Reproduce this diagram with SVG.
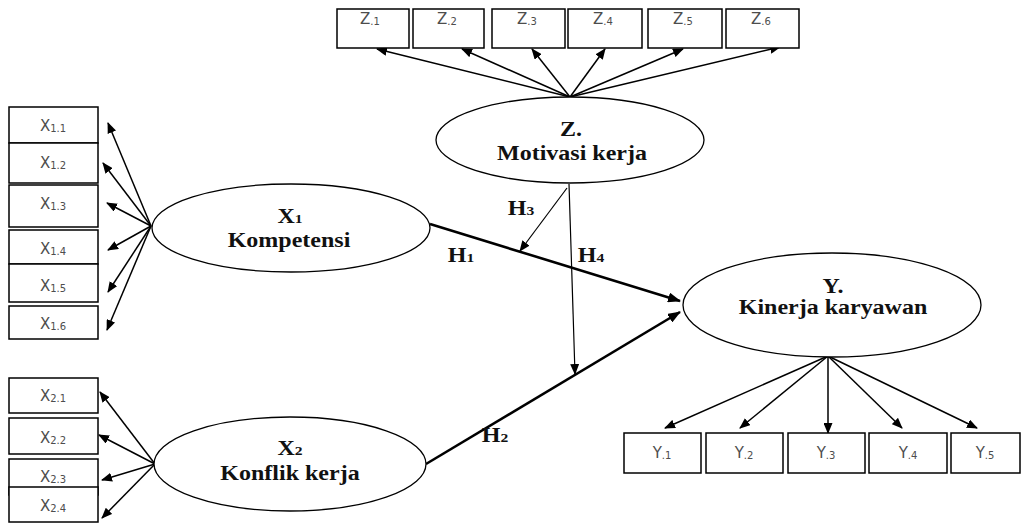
<svg xmlns="http://www.w3.org/2000/svg" width="1022" height="523" viewBox="0 0 1022 523">
<style>
.box{fill:#fff;stroke:#000;stroke-width:1.5}
.ell{fill:#fff;stroke:#000;stroke-width:1.3}
.lbl{font-family:"DejaVu Sans",Verdana,sans-serif;font-size:15px;fill:#4d4d4d;text-anchor:middle}
.sub{font-size:10px}
.nm{font-family:"Liberation Serif","Times New Roman",serif;font-weight:bold;font-size:20px;fill:#111;text-anchor:middle}
.hs{font-size:13px}
.ld{fill:none;stroke:#000;stroke-width:1.5;marker-end:url(#a)}
.th{fill:none;stroke:#000;stroke-width:1.2;marker-end:url(#a)}
.mn{fill:none;stroke:#000;stroke-width:2.6;marker-end:url(#b)}
</style>
<defs>
<marker id="a" markerUnits="userSpaceOnUse" markerWidth="11" markerHeight="9" refX="10" refY="4.5" orient="auto"><path d="M0,0 L11,4.5 L0,9 z" fill="#000"/></marker>
<marker id="b" markerUnits="userSpaceOnUse" markerWidth="13" markerHeight="10" refX="12" refY="5" orient="auto"><path d="M0,0 L13,5 L0,10 z" fill="#000"/></marker>
</defs>
<rect width="1022" height="523" fill="#fff"/>

<g id="connectors">
<path class="ld" d="M151,226 L108,123"/>
<path class="ld" d="M151,226 L103,163"/>
<path class="ld" d="M151,226 L107,203"/>
<path class="ld" d="M151,226 L108,250"/>
<path class="ld" d="M151,226 L108,292"/>
<path class="ld" d="M151,226 L107,330"/>
<path class="ld" d="M155,464 L100,392"/>
<path class="ld" d="M155,464 L99,435"/>
<path class="ld" d="M155,464 L102,480"/>
<path class="ld" d="M155,464 L102,518"/>
<path class="ld" d="M570,97 L377,49"/>
<path class="ld" d="M570,97 L462,49"/>
<path class="ld" d="M570,97 L532,49"/>
<path class="ld" d="M570,97 L605,49"/>
<path class="ld" d="M570,97 L683,49"/>
<path class="ld" d="M570,97 L780,47"/>
<path class="ld" d="M828,356 L665,428"/>
<path class="ld" d="M828,356 L740,428"/>
<path class="ld" d="M828,356 L828,433"/>
<path class="ld" d="M828,356 L902,428"/>
<path class="ld" d="M828,356 L977,428"/>
<path class="mn" d="M430,224 L680,301"/>
<path class="mn" d="M426,464 L680,312"/>
<path class="th" d="M567,188 L520,251"/>
<path class="th" d="M569,184 L575,374"/>
</g>

<g id="X1">
<ellipse class="ell" cx="291" cy="228" rx="139" ry="44"/>
<text class="nm" transform="translate(290,223) scale(1.2,1)">X<tspan class="hs">1</tspan></text>
<text class="nm" transform="translate(289,247) scale(1.2,1)">Kompetensi</text>
</g>
<g id="X2">
<ellipse class="ell" cx="290" cy="464" rx="136" ry="47"/>
<text class="nm" transform="translate(290,455) scale(1.2,1)">X<tspan class="hs">2</tspan></text>
<text class="nm" transform="translate(290,480) scale(1.2,1)">Konflik kerja</text>
</g>
<g id="Z">
<ellipse class="ell" cx="570" cy="140" rx="134" ry="43"/>
<text class="nm" transform="translate(571,136) scale(1.2,1)">Z.</text>
<text class="nm" transform="translate(572,160) scale(1.2,1)">Motivasi kerja</text>
</g>
<g id="Y">
<ellipse class="ell" cx="832" cy="305" rx="149" ry="52"/>
<text class="nm" transform="translate(833,293) scale(1.2,1)">Y.</text>
<text class="nm" transform="translate(833,314) scale(1.2,1)">Kinerja karyawan</text>
</g>

<g id="hyp-labels">
<text class="nm" transform="translate(521,215) scale(1.2,1)">H<tspan class="hs">3</tspan></text>
<text class="nm" transform="translate(461,262) scale(1.2,1)">H<tspan class="hs">1</tspan></text>
<text class="nm" transform="translate(591,262) scale(1.2,1)">H<tspan class="hs">4</tspan></text>
<text class="nm" transform="translate(495,442) scale(1.2,1)">H<tspan class="hs">2</tspan></text>
</g>

<g id="X1-items">
<g id="x11"><rect class="box" x="9" y="107" width="89" height="36"/><text class="lbl" x="53" y="131">X<tspan class="sub" dy="1">1.1</tspan></text></g>
<g id="x12"><rect class="box" x="9" y="143" width="89" height="40"/><text class="lbl" x="53" y="168">X<tspan class="sub" dy="1">1.2</tspan></text></g>
<g id="x13"><rect class="box" x="9" y="185" width="89" height="42"/><text class="lbl" x="53" y="209">X<tspan class="sub" dy="1">1.3</tspan></text></g>
<g id="x14"><rect class="box" x="9" y="230" width="89" height="34"/><text class="lbl" x="53" y="254">X<tspan class="sub" dy="1">1.4</tspan></text></g>
<g id="x15"><rect class="box" x="9" y="264" width="89" height="38"/><text class="lbl" x="53" y="291">X<tspan class="sub" dy="1">1.5</tspan></text></g>
<g id="x16"><rect class="box" x="9" y="306" width="89" height="33"/><text class="lbl" x="53" y="329">X<tspan class="sub" dy="1">1.6</tspan></text></g>
</g>

<g id="X2-items">
<g id="x21"><rect class="box" x="9" y="378" width="89" height="35"/><text class="lbl" x="53" y="401">X<tspan class="sub" dy="1">2.1</tspan></text></g>
<g id="x22"><rect class="box" x="9" y="418" width="89" height="36"/><text class="lbl" x="53" y="443">X<tspan class="sub" dy="1">2.2</tspan></text></g>
<g id="x23"><rect class="box" x="9" y="459" width="89" height="36"/><text class="lbl" x="53" y="482">X<tspan class="sub" dy="1">2.3</tspan></text></g>
<g id="x24"><rect class="box" x="9" y="487" width="89" height="35"/><text class="lbl" x="53" y="511">X<tspan class="sub" dy="1">2.4</tspan></text></g>
</g>

<g id="Z-items">
<g id="z1"><rect class="box" x="337" y="9" width="72" height="39"/><text class="lbl" x="370" y="24">Z<tspan class="sub" dy="1">.1</tspan></text></g>
<g id="z2"><rect class="box" x="413" y="9" width="71" height="39"/><text class="lbl" x="447" y="24">Z<tspan class="sub" dy="1">.2</tspan></text></g>
<g id="z3"><rect class="box" x="492" y="9" width="73" height="39"/><text class="lbl" x="527" y="24">Z<tspan class="sub" dy="1">.3</tspan></text></g>
<g id="z4"><rect class="box" x="568" y="9" width="74" height="39"/><text class="lbl" x="603" y="24">Z<tspan class="sub" dy="1">.4</tspan></text></g>
<g id="z5"><rect class="box" x="648" y="9" width="74" height="39"/><text class="lbl" x="683" y="24">Z<tspan class="sub" dy="1">.5</tspan></text></g>
<g id="z6"><rect class="box" x="726" y="9" width="73" height="39"/><text class="lbl" x="761" y="24">Z<tspan class="sub" dy="1">.6</tspan></text></g>
</g>

<g id="Y-items">
<g id="y1"><rect class="box" x="624" y="433" width="77" height="40"/><text class="lbl" x="662" y="458">Y<tspan class="sub" dy="1">.1</tspan></text></g>
<g id="y2"><rect class="box" x="706" y="433" width="77" height="40"/><text class="lbl" x="744" y="458">Y<tspan class="sub" dy="1">.2</tspan></text></g>
<g id="y3"><rect class="box" x="788" y="433" width="77" height="40"/><text class="lbl" x="826" y="458">Y<tspan class="sub" dy="1">.3</tspan></text></g>
<g id="y4"><rect class="box" x="869" y="433" width="78" height="40"/><text class="lbl" x="908" y="458">Y<tspan class="sub" dy="1">.4</tspan></text></g>
<g id="y5"><rect class="box" x="951" y="433" width="69" height="40"/><text class="lbl" x="985" y="458">Y<tspan class="sub" dy="1">.5</tspan></text></g>
</g>
</svg>
